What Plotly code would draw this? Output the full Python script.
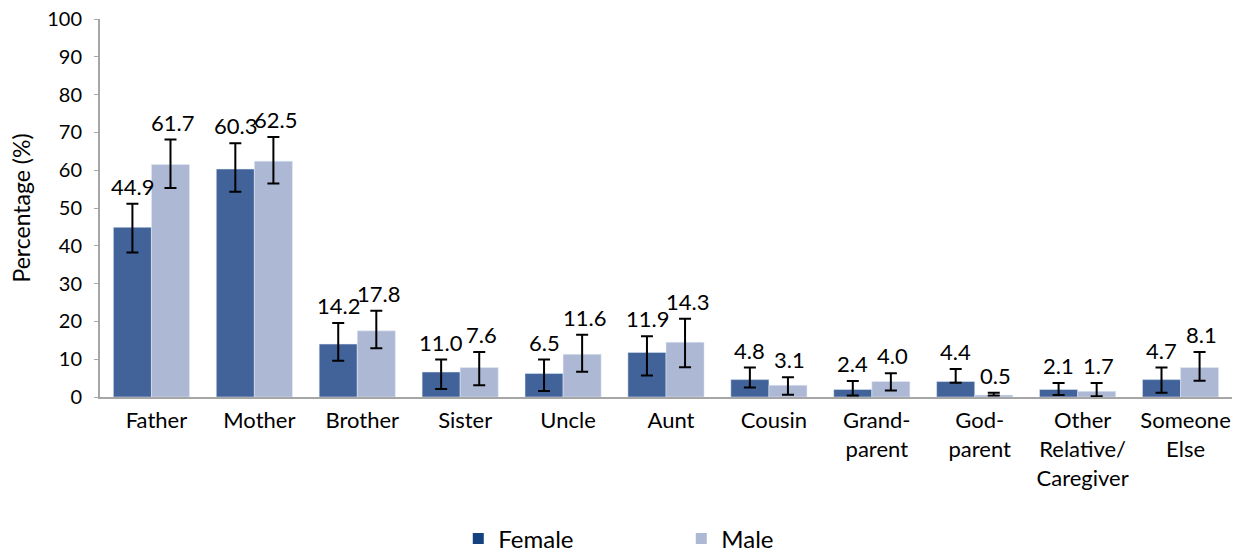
import plotly.graph_objects as go

categories = ["Father", "Mother", "Brother", "Sister", "Uncle", "Aunt", "Cousin",
              "Grand-<br>parent", "God-<br>parent", "Other<br>Relative/<br>Caregiver", "Someone<br>Else"]

female_values = [44.9, 60.3, 14.0, 6.6, 6.2, 11.8, 4.6, 2.0, 4.1, 2.0, 4.6]
female_err_top = [51.1, 67.1, 19.6, 9.9, 9.9, 16.1, 7.8, 4.2, 7.4, 3.7, 7.8]
female_err_bottom = [38.2, 54.3, 9.6, 2.1, 1.6, 5.7, 2.5, 0.4, 3.8, 0.5, 1.1]
female_labels = ["44.9", "60.3", "14.2", "11.0", "6.5", "11.9", "4.8", "2.4", "4.4", "2.1", "4.7"]

male_values = [61.5, 62.4, 17.5, 7.8, 11.3, 14.5, 3.1, 4.1, 0.5, 1.5, 7.8]
male_err_top = [68.1, 68.8, 22.8, 11.9, 16.5, 20.7, 5.2, 6.3, 1.1, 3.7, 11.9]
male_err_bottom = [55.3, 56.5, 12.9, 3.1, 6.7, 7.9, 0.6, 1.7, 0.4, 0.2, 4.3]
male_labels = ["61.7", "62.5", "17.8", "7.6", "11.6", "14.3", "3.1", "4.0", "0.5", "1.7", "8.1"]

FONT = "Lato"
female_color = "#41639A"
male_color = "#ADB8D5"
female_legend_color = "#13427E"


def err(values, top, bottom):
    return dict(type="data", symmetric=False,
                array=[t - v for t, v in zip(top, values)],
                arrayminus=[v - b for v, b in zip(values, bottom)],
                color="black", thickness=2, width=6)


fig = go.Figure()
fig.add_trace(go.Bar(name="Female", x=categories, y=female_values, marker_color=female_color,
                     showlegend=False,
                     error_y=err(female_values, female_err_top, female_err_bottom)))
fig.add_trace(go.Bar(name="Male", x=categories, y=male_values, marker_color=male_color,
                     showlegend=False,
                     error_y=err(male_values, male_err_top, male_err_bottom)))
# legend entries
fig.add_trace(go.Scatter(name="Female", x=[None], y=[None], mode="markers",
                         marker=dict(symbol="square", size=11, color=female_legend_color)))
fig.add_trace(go.Scatter(name="Male", x=[None], y=[None], mode="markers",
                         marker=dict(symbol="square", size=11, color=male_color)))

shift = 19
for cat, top, lab in zip(categories, female_err_top, female_labels):
    fig.add_annotation(x=cat, y=top, text=lab, xshift=-shift, yshift=2, showarrow=False,
                       yanchor="bottom", font=dict(size=22, color="black", family=FONT))
for cat, top, lab in zip(categories, male_err_top, male_labels):
    fig.add_annotation(x=cat, y=top, text=lab, xshift=shift + 2, yshift=2, showarrow=False,
                       yanchor="bottom", font=dict(size=22, color="black", family=FONT))

fig.update_layout(
    width=1235, height=553,
    margin=dict(l=100, r=3, t=19, b=156, autoexpand=False),
    paper_bgcolor="white", plot_bgcolor="white",
    barmode="group", bargap=0.26, bargroupgap=0,
    font=dict(family=FONT, size=21, color="black"),
    legend=dict(orientation="h", x=0.3165, xanchor="left", y=-0.316, yanchor="top",
                font=dict(size=24), entrywidth=178, entrywidthmode="pixels",
                traceorder="normal", itemwidth=30),
    showlegend=True,
)
fig.update_xaxes(showline=True, linecolor="#A6A6A6", linewidth=2, ticks="",
                 tickfont=dict(size=22), showgrid=False, automargin=False,
                 ticklabelshift=5, ticklabelstandoff=3)
fig.update_yaxes(range=[0, 100], dtick=10, showline=True, linecolor="#A6A6A6", linewidth=2,
                 ticks="outside", ticklen=4, tickcolor="#A6A6A6", showgrid=False, zeroline=False,
                 tickfont=dict(size=20), automargin=False, ticklabelstandoff=8,
                 title=dict(text="Percentage (%)", font=dict(size=23), standoff=10))

fig.write_html("out.html", config={"displayModeBar": False},
               post_script="document.body.style.margin='0';")
